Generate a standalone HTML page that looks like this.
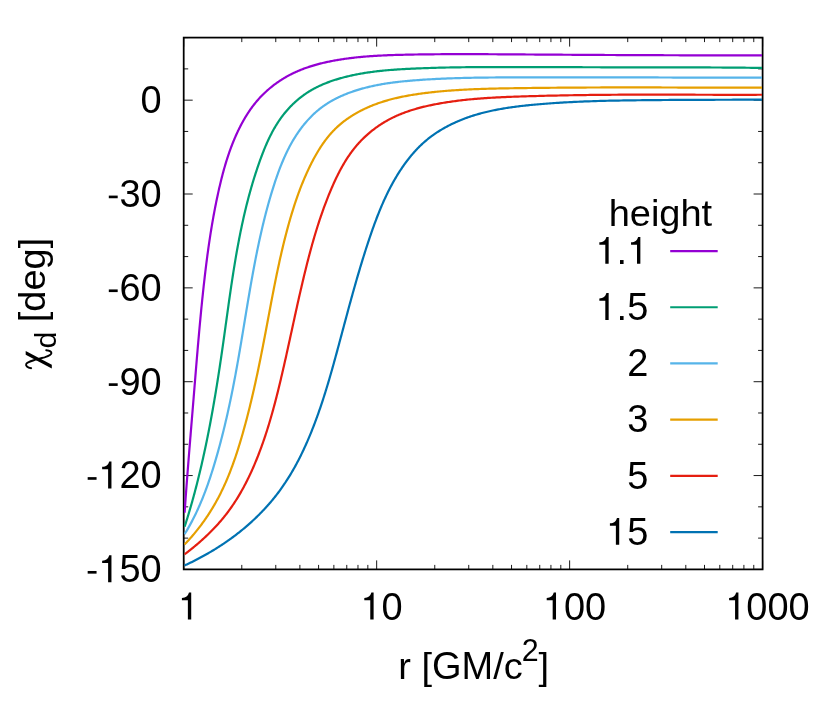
<!DOCTYPE html>
<html><head><meta charset="utf-8"><title>plot</title>
<style>html,body{margin:0;padding:0;background:#fff}svg{display:block;will-change:transform}text{font-family:"Liberation Sans",sans-serif;fill:#000}</style></head>
<body>
<svg width="830" height="727" viewBox="0 0 830 727">
<rect x="0" y="0" width="830" height="727" fill="#fff"/>
<path d="M183.70,569.40 h9.00 M762.60,569.40 h-9.00 M183.70,538.12 h4.50 M762.60,538.12 h-4.50 M183.70,506.84 h4.50 M762.60,506.84 h-4.50 M183.70,475.55 h9.00 M762.60,475.55 h-9.00 M183.70,444.27 h4.50 M762.60,444.27 h-4.50 M183.70,412.99 h4.50 M762.60,412.99 h-4.50 M183.70,381.71 h9.00 M762.60,381.71 h-9.00 M183.70,350.42 h4.50 M762.60,350.42 h-4.50 M183.70,319.14 h4.50 M762.60,319.14 h-4.50 M183.70,287.86 h9.00 M762.60,287.86 h-9.00 M183.70,256.58 h4.50 M762.60,256.58 h-4.50 M183.70,225.29 h4.50 M762.60,225.29 h-4.50 M183.70,194.01 h9.00 M762.60,194.01 h-9.00 M183.70,162.73 h4.50 M762.60,162.73 h-4.50 M183.70,131.45 h4.50 M762.60,131.45 h-4.50 M183.70,100.16 h9.00 M762.60,100.16 h-9.00 M183.70,68.88 h4.50 M762.60,68.88 h-4.50 M183.70,37.60 h4.50 M762.60,37.60 h-4.50 M183.70,569.40 v-9.00 M183.70,37.60 v9.00 M241.79,569.40 v-4.50 M241.79,37.60 v4.50 M275.77,569.40 v-4.50 M275.77,37.60 v4.50 M299.88,569.40 v-4.50 M299.88,37.60 v4.50 M318.58,569.40 v-4.50 M318.58,37.60 v4.50 M333.86,569.40 v-4.50 M333.86,37.60 v4.50 M346.78,569.40 v-4.50 M346.78,37.60 v4.50 M357.97,569.40 v-4.50 M357.97,37.60 v4.50 M367.84,569.40 v-4.50 M367.84,37.60 v4.50 M376.67,569.40 v-9.00 M376.67,37.60 v9.00 M434.76,569.40 v-4.50 M434.76,37.60 v4.50 M468.74,569.40 v-4.50 M468.74,37.60 v4.50 M492.84,569.40 v-4.50 M492.84,37.60 v4.50 M511.54,569.40 v-4.50 M511.54,37.60 v4.50 M526.82,569.40 v-4.50 M526.82,37.60 v4.50 M539.74,569.40 v-4.50 M539.74,37.60 v4.50 M550.93,569.40 v-4.50 M550.93,37.60 v4.50 M560.80,569.40 v-4.50 M560.80,37.60 v4.50 M569.63,569.40 v-9.00 M569.63,37.60 v9.00 M627.72,569.40 v-4.50 M627.72,37.60 v4.50 M661.70,569.40 v-4.50 M661.70,37.60 v4.50 M685.81,569.40 v-4.50 M685.81,37.60 v4.50 M704.51,569.40 v-4.50 M704.51,37.60 v4.50 M719.79,569.40 v-4.50 M719.79,37.60 v4.50 M732.71,569.40 v-4.50 M732.71,37.60 v4.50 M743.90,569.40 v-4.50 M743.90,37.60 v4.50 M753.77,569.40 v-4.50 M753.77,37.60 v4.50 M762.60,569.40 v-9.00 M762.60,37.60 v9.00" stroke="#000" stroke-width="0.9" fill="none"/>
<rect x="183.70" y="37.60" width="578.90" height="531.80" fill="none" stroke="#000" stroke-width="1.75"/>
<defs><clipPath id="pc"><rect x="184" y="37.60" width="578" height="531.80"/></clipPath></defs>
<g fill="none" stroke-width="2.2" stroke-linejoin="round" stroke-linecap="butt" clip-path="url(#pc)">
<path d="M184.60,512.70 L184.74,510.68 L184.88,508.67 L185.02,506.65 L185.17,504.63 L185.31,502.60 L185.46,500.57 L185.60,498.54 L185.75,496.51 L185.90,494.47 L186.05,492.43 L186.20,490.38 L186.36,488.33 L186.51,486.27 L186.67,484.21 L186.82,482.15 L186.98,480.08 L187.14,478.01 L187.30,475.93 L187.46,473.85 L187.62,471.76 L187.79,469.67 L187.95,467.58 L188.12,465.48 L188.28,463.37 L188.45,461.26 L188.62,459.15 L188.79,457.03 L188.96,454.91 L189.13,452.78 L189.30,450.65 L189.47,448.51 L189.65,446.37 L189.82,444.22 L190.00,442.07 L190.17,439.91 L190.35,437.75 L190.53,435.58 L190.70,433.41 L190.88,431.23 L191.06,429.06 L191.24,426.88 L191.42,424.70 L191.60,422.51 L191.78,420.33 L191.96,418.15 L192.14,415.96 L192.32,413.78 L192.50,411.60 L192.68,409.43 L192.86,407.25 L193.03,405.08 L193.21,402.92 L193.39,400.75 L193.57,398.60 L193.74,396.44 L193.92,394.30 L194.09,392.15 L194.27,390.02 L194.44,387.88 L194.61,385.76 L194.79,383.63 L194.96,381.51 L195.13,379.40 L195.30,377.29 L195.48,375.18 L195.65,373.08 L195.82,370.99 L195.99,368.90 L196.16,366.81 L196.34,364.73 L196.51,362.65 L196.68,360.58 L196.85,358.51 L197.03,356.45 L197.20,354.39 L197.38,352.33 L197.55,350.28 L197.72,348.24 L197.90,346.19 L198.08,344.16 L198.25,342.12 L198.43,340.10 L198.61,338.07 L198.79,336.05 L198.97,334.03 L199.15,332.02 L199.33,330.02 L199.51,328.01 L199.69,326.01 L199.88,324.02 L200.06,322.03 L200.25,320.04 L200.43,318.06 L200.62,316.08 L200.81,314.11 L201.00,312.14 L201.19,310.17 L201.39,308.21 L201.58,306.25 L201.78,304.30 L201.97,302.35 L202.17,300.41 L202.37,298.47 L202.57,296.53 L202.78,294.60 L202.98,292.67 L203.19,290.74 L203.39,288.82 L203.60,286.90 L203.81,284.99 L204.02,283.08 L204.24,281.17 L204.45,279.27 L204.67,277.37 L204.89,275.48 L205.11,273.59 L205.34,271.70 L205.56,269.82 L205.79,267.94 L206.02,266.07 L206.26,264.21 L206.49,262.35 L206.73,260.49 L206.97,258.65 L207.21,256.81 L207.45,254.97 L207.70,253.15 L207.95,251.33 L208.20,249.52 L208.45,247.72 L208.71,245.93 L208.96,244.15 L209.22,242.38 L209.48,240.61 L209.75,238.86 L210.01,237.11 L210.28,235.38 L210.55,233.66 L210.82,231.94 L211.10,230.24 L211.37,228.54 L211.65,226.86 L211.93,225.18 L212.21,223.52 L212.50,221.86 L212.79,220.21 L213.08,218.57 L213.37,216.93 L213.66,215.31 L213.96,213.69 L214.26,212.09 L214.56,210.49 L214.87,208.89 L215.17,207.31 L215.48,205.73 L215.80,204.16 L216.11,202.60 L216.43,201.05 L216.75,199.50 L217.07,197.96 L217.40,196.43 L217.72,194.90 L218.06,193.38 L218.39,191.87 L218.72,190.36 L219.06,188.86 L219.41,187.36 L219.75,185.88 L220.10,184.40 L220.45,182.92 L220.81,181.45 L221.17,180.00 L221.53,178.55 L221.90,177.11 L222.26,175.69 L222.63,174.28 L223.00,172.89 L223.38,171.51 L223.75,170.16 L224.12,168.82 L224.50,167.50 L224.88,166.20 L225.25,164.92 L225.63,163.66 L226.00,162.42 L226.38,161.20 L226.75,160.01 L227.13,158.83 L227.50,157.67 L227.87,156.54 L228.24,155.42 L228.61,154.33 L228.98,153.26 L229.34,152.20 L229.71,151.16 L230.07,150.15 L230.44,149.15 L230.80,148.17 L231.15,147.21 L231.51,146.26 L231.87,145.33 L232.22,144.42 L232.57,143.52 L232.93,142.64 L233.28,141.77 L233.62,140.92 L233.97,140.07 L234.32,139.24 L234.67,138.43 L235.01,137.62 L235.35,136.83 L235.70,136.05 L236.04,135.27 L236.38,134.51 L236.72,133.76 L237.06,133.02 L237.41,132.29 L237.74,131.56 L238.08,130.85 L238.42,130.14 L238.76,129.44 L239.10,128.75 L239.44,128.07 L239.78,127.39 L240.12,126.72 L240.46,126.05 L240.81,125.39 L241.15,124.74 L241.49,124.09 L241.84,123.45 L242.18,122.81 L242.53,122.17 L242.88,121.55 L243.22,120.92 L243.58,120.30 L243.93,119.69 L244.28,119.07 L244.64,118.47 L244.99,117.86 L245.35,117.26 L245.71,116.67 L246.07,116.07 L246.44,115.48 L246.81,114.90 L247.17,114.31 L247.55,113.73 L247.92,113.15 L248.30,112.58 L248.67,112.01 L249.06,111.44 L249.44,110.87 L249.83,110.30 L250.22,109.74 L250.61,109.18 L251.01,108.62 L251.40,108.07 L251.81,107.51 L252.21,106.96 L252.62,106.41 L253.03,105.87 L253.45,105.32 L253.87,104.78 L254.30,104.23 L254.73,103.69 L255.16,103.15 L255.59,102.62 L256.04,102.08 L256.48,101.55 L256.93,101.01 L257.39,100.48 L257.85,99.95 L258.32,99.42 L258.79,98.89 L259.26,98.37 L259.74,97.84 L260.23,97.32 L260.72,96.80 L261.22,96.28 L261.72,95.76 L262.23,95.24 L262.74,94.73 L263.26,94.22 L263.78,93.71 L264.30,93.20 L264.84,92.69 L265.37,92.19 L265.91,91.69 L266.46,91.19 L267.01,90.69 L267.57,90.20 L268.13,89.71 L268.70,89.22 L269.27,88.73 L269.84,88.24 L270.42,87.76 L271.01,87.28 L271.60,86.81 L272.19,86.34 L272.79,85.87 L273.40,85.40 L274.00,84.94 L274.62,84.48 L275.23,84.02 L275.85,83.57 L276.48,83.12 L277.11,82.67 L277.74,82.23 L278.38,81.79 L279.02,81.35 L279.67,80.92 L280.32,80.49 L280.97,80.06 L281.63,79.64 L282.30,79.22 L282.96,78.81 L283.63,78.40 L284.31,77.99 L284.99,77.59 L285.67,77.19 L286.36,76.80 L287.05,76.41 L287.75,76.02 L288.45,75.64 L289.15,75.26 L289.86,74.89 L290.57,74.52 L291.29,74.16 L292.01,73.80 L292.73,73.44 L293.46,73.09 L294.19,72.74 L294.92,72.40 L295.66,72.06 L296.41,71.72 L297.16,71.39 L297.91,71.06 L298.67,70.74 L299.43,70.42 L300.19,70.11 L300.96,69.80 L301.74,69.49 L302.52,69.19 L303.30,68.89 L304.09,68.59 L304.88,68.30 L305.68,68.01 L306.48,67.73 L307.29,67.45 L308.10,67.17 L308.92,66.90 L309.74,66.63 L310.57,66.36 L311.40,66.10 L312.24,65.84 L313.09,65.59 L313.94,65.33 L314.79,65.09 L315.65,64.84 L316.52,64.60 L317.39,64.36 L318.27,64.13 L319.15,63.89 L320.04,63.66 L320.93,63.44 L321.83,63.22 L322.74,63.00 L323.65,62.78 L324.57,62.57 L325.50,62.36 L326.43,62.15 L327.37,61.95 L328.31,61.75 L329.26,61.55 L330.22,61.36 L331.19,61.17 L332.16,60.98 L333.13,60.79 L334.12,60.61 L335.11,60.43 L336.11,60.26 L337.11,60.08 L338.12,59.91 L339.14,59.74 L340.17,59.57 L341.20,59.41 L342.25,59.25 L343.30,59.09 L344.35,58.94 L345.42,58.78 L346.49,58.63 L347.58,58.49 L348.67,58.34 L349.77,58.20 L350.87,58.06 L351.99,57.92 L353.12,57.79 L354.26,57.66 L355.40,57.53 L356.56,57.41 L357.73,57.28 L358.91,57.16 L360.09,57.05 L361.29,56.93 L362.50,56.82 L363.72,56.71 L364.96,56.61 L366.20,56.50 L367.46,56.40 L368.73,56.31 L370.01,56.21 L371.31,56.12 L372.62,56.03 L373.95,55.94 L375.28,55.86 L376.64,55.78 L378.00,55.70 L379.39,55.62 L380.79,55.55 L382.20,55.48 L383.64,55.41 L385.09,55.35 L386.56,55.28 L388.04,55.22 L389.55,55.17 L391.08,55.11 L392.62,55.06 L394.19,55.01 L395.78,54.96 L397.40,54.91 L399.04,54.86 L400.70,54.82 L402.39,54.78 L404.10,54.74 L405.85,54.70 L407.62,54.66 L409.43,54.63 L411.26,54.59 L413.13,54.56 L415.02,54.52 L416.95,54.49 L418.90,54.46 L420.88,54.43 L422.88,54.40 L424.91,54.38 L426.97,54.35 L429.04,54.33 L431.14,54.31 L433.25,54.29 L435.37,54.27 L437.51,54.25 L439.66,54.23 L441.82,54.22 L443.97,54.21 L446.13,54.20 L448.29,54.19 L450.45,54.18 L452.61,54.17 L454.77,54.16 L456.93,54.16 L459.09,54.16 L461.25,54.16 L463.41,54.16 L465.58,54.16 L467.74,54.16 L469.91,54.16 L472.07,54.17 L474.24,54.17 L476.41,54.18 L478.58,54.18 L480.75,54.19 L482.92,54.20 L485.09,54.21 L487.26,54.22 L489.44,54.23 L491.61,54.24 L493.79,54.25 L495.96,54.27 L498.14,54.28 L500.32,54.29 L502.50,54.31 L504.68,54.32 L506.86,54.34 L509.04,54.35 L511.22,54.37 L513.41,54.38 L515.59,54.40 L517.78,54.41 L519.96,54.43 L522.15,54.44 L524.34,54.46 L526.53,54.48 L528.72,54.49 L530.91,54.51 L533.10,54.52 L535.29,54.54 L537.49,54.55 L539.68,54.57 L541.88,54.58 L544.08,54.60 L546.27,54.61 L548.47,54.63 L550.67,54.64 L552.87,54.66 L555.07,54.67 L557.28,54.69 L559.48,54.70 L561.68,54.72 L563.89,54.73 L566.10,54.74 L568.30,54.76 L570.51,54.77 L572.72,54.79 L574.93,54.80 L577.14,54.81 L579.35,54.83 L581.55,54.84 L583.76,54.85 L585.97,54.87 L588.18,54.88 L590.39,54.89 L592.60,54.90 L594.80,54.92 L597.01,54.93 L599.22,54.94 L601.42,54.95 L603.62,54.97 L605.83,54.98 L608.03,54.99 L610.23,55.00 L612.43,55.01 L614.63,55.02 L616.83,55.03 L619.02,55.04 L621.22,55.05 L623.41,55.07 L625.61,55.08 L627.80,55.09 L629.99,55.10 L632.18,55.11 L634.37,55.12 L636.56,55.12 L638.75,55.13 L640.94,55.14 L643.12,55.15 L645.31,55.16 L647.49,55.17 L649.68,55.18 L651.86,55.19 L654.04,55.19 L656.22,55.20 L658.40,55.21 L660.58,55.22 L662.76,55.22 L664.94,55.23 L667.11,55.24 L669.29,55.24 L671.46,55.25 L673.63,55.26 L675.81,55.26 L677.98,55.27 L680.15,55.28 L682.32,55.28 L684.49,55.29 L686.66,55.29 L688.82,55.30 L690.99,55.30 L693.16,55.31 L695.32,55.31 L697.48,55.32 L699.65,55.32 L701.81,55.33 L703.97,55.33 L706.13,55.34 L708.29,55.34 L710.45,55.34 L712.60,55.35 L714.76,55.35 L716.92,55.36 L719.07,55.36 L721.23,55.36 L723.38,55.37 L725.53,55.37 L727.68,55.37 L729.83,55.37 L731.98,55.38 L734.13,55.38 L736.28,55.38 L738.43,55.38 L740.57,55.39 L742.72,55.39 L744.86,55.39 L747.01,55.39 L749.15,55.39 L751.30,55.39 L753.44,55.40 L755.58,55.40 L757.72,55.40 L759.86,55.40 L762.00,55.40 L763.00,55.40" stroke="#9400D3"/>
<path d="M184.60,526.76 L185.00,525.50 L185.43,524.17 L185.85,522.83 L186.27,521.49 L186.69,520.15 L187.11,518.81 L187.52,517.46 L187.94,516.10 L188.35,514.75 L188.76,513.39 L189.17,512.02 L189.57,510.65 L189.97,509.28 L190.38,507.90 L190.78,506.52 L191.18,505.13 L191.57,503.74 L191.97,502.34 L192.36,500.94 L192.75,499.54 L193.14,498.12 L193.53,496.71 L193.92,495.28 L194.31,493.86 L194.69,492.42 L195.07,490.99 L195.45,489.54 L195.83,488.10 L196.21,486.64 L196.59,485.18 L196.96,483.72 L197.33,482.25 L197.71,480.77 L198.08,479.29 L198.44,477.80 L198.81,476.31 L199.18,474.81 L199.54,473.31 L199.90,471.80 L200.27,470.28 L200.63,468.76 L200.98,467.23 L201.34,465.70 L201.70,464.16 L202.05,462.61 L202.41,461.06 L202.76,459.50 L203.11,457.93 L203.46,456.36 L203.80,454.78 L204.15,453.20 L204.50,451.61 L204.84,450.01 L205.18,448.40 L205.53,446.79 L205.87,445.17 L206.20,443.55 L206.54,441.92 L206.88,440.28 L207.21,438.63 L207.55,436.98 L207.88,435.32 L208.21,433.65 L208.55,431.97 L208.88,430.29 L209.20,428.60 L209.53,426.90 L209.86,425.19 L210.19,423.48 L210.51,421.75 L210.83,420.02 L211.16,418.28 L211.48,416.53 L211.80,414.78 L212.12,413.01 L212.44,411.23 L212.76,409.45 L213.08,407.66 L213.39,405.85 L213.71,404.04 L214.02,402.22 L214.34,400.39 L214.65,398.54 L214.97,396.69 L215.28,394.83 L215.59,392.96 L215.90,391.07 L216.22,389.18 L216.53,387.27 L216.84,385.35 L217.15,383.43 L217.46,381.49 L217.77,379.53 L218.07,377.57 L218.38,375.59 L218.69,373.61 L219.00,371.60 L219.31,369.59 L219.62,367.56 L219.93,365.52 L220.23,363.47 L220.54,361.40 L220.85,359.32 L221.16,357.22 L221.47,355.11 L221.78,352.99 L222.09,350.87 L222.39,348.73 L222.70,346.59 L223.01,344.44 L223.31,342.29 L223.61,340.14 L223.92,337.99 L224.22,335.85 L224.52,333.71 L224.81,331.57 L225.11,329.44 L225.40,327.32 L225.69,325.22 L225.98,323.12 L226.27,321.04 L226.56,318.98 L226.84,316.92 L227.13,314.88 L227.41,312.85 L227.69,310.84 L227.97,308.83 L228.25,306.84 L228.53,304.86 L228.80,302.90 L229.08,300.94 L229.36,299.00 L229.63,297.06 L229.91,295.14 L230.19,293.23 L230.46,291.33 L230.74,289.44 L231.02,287.57 L231.29,285.70 L231.57,283.84 L231.85,281.99 L232.13,280.16 L232.41,278.33 L232.69,276.51 L232.97,274.71 L233.25,272.91 L233.53,271.12 L233.82,269.34 L234.10,267.57 L234.39,265.81 L234.67,264.06 L234.96,262.32 L235.25,260.59 L235.54,258.86 L235.84,257.15 L236.13,255.44 L236.43,253.74 L236.72,252.05 L237.02,250.37 L237.32,248.70 L237.63,247.03 L237.93,245.37 L238.24,243.73 L238.55,242.08 L238.86,240.45 L239.17,238.83 L239.48,237.21 L239.80,235.60 L240.12,233.99 L240.44,232.40 L240.76,230.81 L241.09,229.23 L241.42,227.66 L241.75,226.09 L242.08,224.53 L242.41,222.98 L242.75,221.43 L243.09,219.89 L243.44,218.36 L243.78,216.83 L244.13,215.31 L244.48,213.79 L244.83,212.28 L245.19,210.78 L245.55,209.29 L245.91,207.80 L246.27,206.31 L246.64,204.83 L247.01,203.36 L247.39,201.89 L247.76,200.43 L248.14,198.98 L248.52,197.53 L248.91,196.08 L249.30,194.64 L249.69,193.21 L250.09,191.78 L250.48,190.36 L250.88,188.94 L251.29,187.52 L251.70,186.11 L252.11,184.71 L252.52,183.31 L252.94,181.92 L253.36,180.53 L253.78,179.14 L254.21,177.77 L254.64,176.40 L255.07,175.05 L255.50,173.70 L255.93,172.36 L256.37,171.04 L256.80,169.73 L257.24,168.43 L257.67,167.14 L258.11,165.87 L258.54,164.61 L258.98,163.37 L259.41,162.14 L259.84,160.93 L260.27,159.73 L260.70,158.55 L261.13,157.39 L261.56,156.24 L261.98,155.11 L262.41,153.99 L262.83,152.89 L263.26,151.81 L263.68,150.75 L264.10,149.70 L264.52,148.67 L264.94,147.65 L265.35,146.66 L265.77,145.67 L266.19,144.71 L266.60,143.76 L267.02,142.82 L267.43,141.90 L267.84,140.99 L268.26,140.09 L268.67,139.21 L269.08,138.34 L269.49,137.49 L269.90,136.64 L270.32,135.81 L270.73,134.99 L271.14,134.18 L271.55,133.39 L271.96,132.60 L272.38,131.83 L272.79,131.06 L273.20,130.31 L273.62,129.57 L274.03,128.83 L274.44,128.11 L274.86,127.40 L275.27,126.69 L275.69,126.00 L276.10,125.31 L276.52,124.64 L276.94,123.97 L277.35,123.31 L277.77,122.66 L278.19,122.01 L278.61,121.38 L279.03,120.75 L279.45,120.13 L279.87,119.52 L280.29,118.92 L280.72,118.32 L281.14,117.73 L281.56,117.15 L281.99,116.58 L282.42,116.01 L282.84,115.45 L283.27,114.89 L283.70,114.34 L284.13,113.80 L284.56,113.27 L284.99,112.74 L285.42,112.22 L285.85,111.70 L286.29,111.19 L286.72,110.68 L287.16,110.18 L287.60,109.68 L288.04,109.19 L288.48,108.70 L288.92,108.22 L289.36,107.74 L289.81,107.27 L290.26,106.80 L290.70,106.33 L291.15,105.87 L291.60,105.42 L292.06,104.96 L292.51,104.52 L292.97,104.07 L293.43,103.63 L293.89,103.19 L294.35,102.76 L294.82,102.33 L295.29,101.90 L295.76,101.48 L296.23,101.06 L296.70,100.64 L297.18,100.23 L297.66,99.82 L298.14,99.41 L298.63,99.01 L299.12,98.61 L299.61,98.21 L300.10,97.81 L300.59,97.42 L301.09,97.03 L301.59,96.65 L302.10,96.27 L302.61,95.89 L303.12,95.51 L303.63,95.14 L304.15,94.76 L304.67,94.40 L305.20,94.03 L305.73,93.67 L306.26,93.31 L306.80,92.95 L307.34,92.60 L307.89,92.25 L308.43,91.90 L308.99,91.55 L309.55,91.21 L310.11,90.87 L310.68,90.53 L311.25,90.20 L311.82,89.87 L312.40,89.54 L312.99,89.21 L313.58,88.88 L314.18,88.56 L314.78,88.24 L315.38,87.93 L315.99,87.61 L316.61,87.30 L317.23,86.99 L317.86,86.68 L318.49,86.38 L319.12,86.08 L319.76,85.78 L320.41,85.48 L321.06,85.19 L321.72,84.89 L322.38,84.60 L323.04,84.32 L323.72,84.03 L324.39,83.75 L325.08,83.47 L325.76,83.20 L326.46,82.92 L327.16,82.65 L327.86,82.38 L328.57,82.11 L329.29,81.85 L330.01,81.59 L330.74,81.33 L331.47,81.07 L332.21,80.82 L332.96,80.56 L333.71,80.31 L334.47,80.07 L335.23,79.82 L336.00,79.58 L336.78,79.34 L337.56,79.10 L338.35,78.86 L339.15,78.63 L339.95,78.40 L340.76,78.17 L341.58,77.94 L342.40,77.72 L343.23,77.49 L344.07,77.27 L344.92,77.05 L345.78,76.84 L346.64,76.62 L347.51,76.41 L348.39,76.20 L349.28,75.99 L350.18,75.79 L351.08,75.58 L352.00,75.38 L352.93,75.18 L353.86,74.98 L354.81,74.79 L355.76,74.59 L356.73,74.40 L357.71,74.21 L358.70,74.03 L359.70,73.84 L360.72,73.66 L361.74,73.48 L362.78,73.30 L363.83,73.13 L364.90,72.95 L365.98,72.78 L367.08,72.61 L368.19,72.45 L369.31,72.29 L370.45,72.12 L371.61,71.97 L372.79,71.81 L373.98,71.66 L375.20,71.51 L376.43,71.36 L377.68,71.21 L378.96,71.07 L380.25,70.93 L381.57,70.79 L382.92,70.65 L384.29,70.52 L385.68,70.39 L387.10,70.26 L388.55,70.14 L390.02,70.02 L391.52,69.90 L393.04,69.78 L394.59,69.67 L396.17,69.56 L397.77,69.45 L399.39,69.35 L401.04,69.25 L402.72,69.15 L404.42,69.05 L406.13,68.96 L407.87,68.87 L409.63,68.78 L411.40,68.70 L413.19,68.62 L414.99,68.54 L416.80,68.46 L418.62,68.38 L420.45,68.31 L422.28,68.24 L424.12,68.17 L425.96,68.10 L427.81,68.04 L429.67,67.98 L431.53,67.92 L433.40,67.86 L435.28,67.81 L437.16,67.75 L439.05,67.70 L440.95,67.66 L442.86,67.61 L444.77,67.57 L446.69,67.52 L448.61,67.48 L450.55,67.45 L452.49,67.41 L454.44,67.38 L456.40,67.34 L458.36,67.31 L460.34,67.29 L462.32,67.26 L464.31,67.23 L466.31,67.21 L468.31,67.19 L470.33,67.17 L472.35,67.15 L474.39,67.13 L476.43,67.12 L478.48,67.11 L480.55,67.09 L482.62,67.08 L484.70,67.07 L486.79,67.06 L488.89,67.06 L491.00,67.05 L493.12,67.05 L495.25,67.04 L497.39,67.04 L499.55,67.04 L501.71,67.04 L503.87,67.04 L506.05,67.04 L508.23,67.04 L510.42,67.04 L512.61,67.05 L514.81,67.05 L517.02,67.05 L519.22,67.06 L521.43,67.06 L523.64,67.07 L525.86,67.07 L528.07,67.08 L530.29,67.08 L532.50,67.09 L534.71,67.09 L536.93,67.10 L539.14,67.10 L541.36,67.11 L543.57,67.12 L545.79,67.12 L548.00,67.13 L550.22,67.13 L552.44,67.14 L554.66,67.15 L556.87,67.15 L559.09,67.16 L561.32,67.16 L563.54,67.17 L565.76,67.18 L567.98,67.18 L570.21,67.19 L572.43,67.20 L574.66,67.20 L576.88,67.21 L579.11,67.22 L581.34,67.22 L583.57,67.23 L585.80,67.23 L588.02,67.24 L590.25,67.25 L592.48,67.25 L594.71,67.26 L596.94,67.26 L599.17,67.27 L601.40,67.28 L603.63,67.28 L605.86,67.29 L608.08,67.29 L610.31,67.30 L612.54,67.30 L614.76,67.31 L616.98,67.31 L619.21,67.32 L621.43,67.32 L623.65,67.33 L625.87,67.33 L628.09,67.34 L630.31,67.34 L632.53,67.34 L634.75,67.35 L636.97,67.35 L639.19,67.35 L641.40,67.35 L643.62,67.36 L645.83,67.36 L648.05,67.36 L650.26,67.36 L652.47,67.37 L654.68,67.37 L656.89,67.37 L659.10,67.37 L661.31,67.37 L663.52,67.37 L665.73,67.38 L667.94,67.38 L670.14,67.38 L672.35,67.38 L674.55,67.38 L676.76,67.39 L678.96,67.39 L681.16,67.39 L683.37,67.39 L685.57,67.40 L687.77,67.40 L689.96,67.41 L692.16,67.41 L694.36,67.42 L696.56,67.42 L698.75,67.43 L700.95,67.43 L703.14,67.44 L705.33,67.45 L707.52,67.46 L709.72,67.47 L711.90,67.48 L714.09,67.49 L716.28,67.50 L718.47,67.51 L720.66,67.52 L722.84,67.54 L725.02,67.55 L727.21,67.57 L729.39,67.58 L731.57,67.60 L733.75,67.62 L735.93,67.64 L738.11,67.66 L740.28,67.68 L742.46,67.70 L744.64,67.72 L746.81,67.75 L748.98,67.77 L751.15,67.80 L753.32,67.83 L755.49,67.85 L757.66,67.89 L759.83,67.92 L762.00,67.95 L763.00,67.97" stroke="#009E73"/>
<path d="M184.60,534.17 L185.00,533.50 L185.74,532.29 L186.47,531.07 L187.19,529.85 L187.91,528.62 L188.62,527.39 L189.32,526.15 L190.01,524.90 L190.69,523.65 L191.37,522.39 L192.04,521.13 L192.70,519.86 L193.35,518.58 L194.00,517.30 L194.64,516.01 L195.27,514.71 L195.90,513.41 L196.52,512.11 L197.13,510.79 L197.74,509.47 L198.34,508.15 L198.94,506.82 L199.52,505.48 L200.11,504.14 L200.68,502.79 L201.25,501.44 L201.82,500.08 L202.38,498.71 L202.93,497.34 L203.48,495.96 L204.02,494.58 L204.55,493.19 L205.09,491.80 L205.61,490.40 L206.13,489.00 L206.65,487.59 L207.16,486.18 L207.67,484.76 L208.17,483.33 L208.66,481.90 L209.16,480.47 L209.64,479.03 L210.13,477.59 L210.61,476.14 L211.08,474.69 L211.55,473.23 L212.02,471.76 L212.48,470.30 L212.94,468.83 L213.40,467.35 L213.85,465.87 L214.30,464.38 L214.75,462.90 L215.19,461.40 L215.64,459.91 L216.07,458.40 L216.51,456.90 L216.94,455.39 L217.37,453.88 L217.80,452.36 L218.22,450.84 L218.64,449.31 L219.06,447.78 L219.48,446.25 L219.89,444.71 L220.30,443.17 L220.71,441.62 L221.12,440.07 L221.52,438.52 L221.92,436.96 L222.32,435.39 L222.72,433.82 L223.11,432.25 L223.50,430.67 L223.89,429.09 L224.28,427.51 L224.66,425.91 L225.05,424.32 L225.42,422.72 L225.80,421.11 L226.18,419.50 L226.55,417.89 L226.92,416.27 L227.29,414.64 L227.66,413.01 L228.02,411.38 L228.38,409.74 L228.74,408.09 L229.10,406.44 L229.46,404.79 L229.81,403.13 L230.17,401.46 L230.52,399.79 L230.87,398.12 L231.21,396.44 L231.56,394.75 L231.90,393.06 L232.24,391.36 L232.58,389.66 L232.92,387.95 L233.26,386.24 L233.59,384.52 L233.93,382.79 L234.26,381.06 L234.59,379.33 L234.92,377.58 L235.25,375.84 L235.58,374.08 L235.90,372.32 L236.22,370.56 L236.55,368.79 L236.87,367.01 L237.19,365.22 L237.51,363.43 L237.83,361.64 L238.15,359.84 L238.46,358.03 L238.78,356.21 L239.10,354.39 L239.41,352.55 L239.73,350.71 L240.04,348.86 L240.36,346.99 L240.68,345.12 L241.00,343.23 L241.32,341.33 L241.64,339.42 L241.96,337.49 L242.28,335.55 L242.61,333.59 L242.94,331.62 L243.27,329.62 L243.60,327.61 L243.93,325.58 L244.27,323.53 L244.61,321.46 L244.96,319.39 L245.30,317.30 L245.65,315.21 L245.99,313.11 L246.34,311.01 L246.69,308.91 L247.04,306.81 L247.39,304.72 L247.74,302.65 L248.08,300.58 L248.43,298.52 L248.78,296.49 L249.12,294.47 L249.46,292.47 L249.80,290.49 L250.14,288.54 L250.48,286.60 L250.81,284.68 L251.15,282.78 L251.48,280.90 L251.81,279.04 L252.15,277.19 L252.48,275.36 L252.81,273.55 L253.14,271.75 L253.47,269.97 L253.79,268.20 L254.12,266.45 L254.45,264.72 L254.78,263.00 L255.11,261.29 L255.44,259.59 L255.76,257.91 L256.09,256.25 L256.42,254.59 L256.75,252.95 L257.08,251.32 L257.41,249.71 L257.74,248.10 L258.08,246.51 L258.41,244.93 L258.74,243.36 L259.07,241.80 L259.41,240.25 L259.74,238.71 L260.08,237.19 L260.42,235.67 L260.76,234.16 L261.10,232.66 L261.44,231.18 L261.78,229.70 L262.12,228.23 L262.47,226.77 L262.81,225.32 L263.16,223.88 L263.51,222.45 L263.86,221.02 L264.21,219.61 L264.56,218.20 L264.91,216.80 L265.27,215.41 L265.62,214.02 L265.98,212.65 L266.34,211.28 L266.70,209.92 L267.07,208.57 L267.43,207.22 L267.80,205.88 L268.16,204.55 L268.53,203.23 L268.90,201.91 L269.28,200.60 L269.65,199.29 L270.03,198.00 L270.41,196.70 L270.79,195.42 L271.17,194.14 L271.55,192.87 L271.94,191.60 L272.33,190.34 L272.72,189.08 L273.11,187.83 L273.50,186.59 L273.90,185.35 L274.30,184.12 L274.70,182.89 L275.10,181.67 L275.50,180.46 L275.91,179.25 L276.32,178.06 L276.73,176.87 L277.14,175.69 L277.55,174.52 L277.97,173.37 L278.38,172.22 L278.80,171.09 L279.22,169.97 L279.63,168.86 L280.05,167.77 L280.48,166.68 L280.90,165.61 L281.32,164.56 L281.74,163.52 L282.16,162.49 L282.59,161.47 L283.01,160.47 L283.43,159.49 L283.85,158.51 L284.28,157.56 L284.70,156.61 L285.12,155.68 L285.54,154.76 L285.96,153.86 L286.39,152.97 L286.81,152.09 L287.23,151.23 L287.64,150.38 L288.06,149.54 L288.48,148.71 L288.90,147.90 L289.32,147.10 L289.73,146.31 L290.15,145.53 L290.57,144.76 L290.98,144.01 L291.40,143.26 L291.81,142.52 L292.23,141.80 L292.64,141.08 L293.06,140.37 L293.47,139.67 L293.89,138.99 L294.30,138.31 L294.72,137.63 L295.13,136.97 L295.54,136.31 L295.96,135.67 L296.37,135.03 L296.79,134.40 L297.21,133.77 L297.62,133.15 L298.04,132.54 L298.46,131.93 L298.88,131.33 L299.30,130.74 L299.72,130.15 L300.14,129.57 L300.56,128.99 L300.99,128.42 L301.41,127.85 L301.84,127.29 L302.27,126.73 L302.70,126.18 L303.13,125.63 L303.57,125.09 L304.00,124.55 L304.44,124.01 L304.88,123.48 L305.32,122.95 L305.77,122.43 L306.21,121.91 L306.66,121.40 L307.11,120.89 L307.56,120.38 L308.02,119.87 L308.48,119.37 L308.94,118.88 L309.40,118.38 L309.87,117.89 L310.34,117.40 L310.81,116.92 L311.28,116.44 L311.76,115.96 L312.24,115.49 L312.73,115.02 L313.22,114.55 L313.71,114.08 L314.20,113.62 L314.70,113.16 L315.20,112.71 L315.71,112.25 L316.22,111.80 L316.74,111.36 L317.26,110.91 L317.78,110.47 L318.31,110.03 L318.84,109.60 L319.38,109.16 L319.92,108.73 L320.47,108.31 L321.03,107.88 L321.58,107.46 L322.15,107.04 L322.71,106.63 L323.29,106.22 L323.87,105.81 L324.45,105.40 L325.04,105.00 L325.63,104.60 L326.23,104.21 L326.83,103.82 L327.44,103.43 L328.05,103.04 L328.66,102.66 L329.29,102.28 L329.91,101.91 L330.54,101.54 L331.18,101.17 L331.82,100.81 L332.46,100.44 L333.11,100.09 L333.76,99.73 L334.42,99.38 L335.08,99.03 L335.75,98.69 L336.42,98.35 L337.10,98.01 L337.78,97.68 L338.46,97.34 L339.15,97.02 L339.85,96.69 L340.55,96.37 L341.25,96.05 L341.96,95.74 L342.67,95.43 L343.39,95.12 L344.11,94.81 L344.83,94.51 L345.56,94.21 L346.30,93.92 L347.04,93.62 L347.78,93.34 L348.53,93.05 L349.28,92.77 L350.04,92.49 L350.80,92.21 L351.57,91.94 L352.34,91.67 L353.12,91.40 L353.90,91.14 L354.69,90.87 L355.48,90.62 L356.28,90.36 L357.08,90.11 L357.89,89.86 L358.70,89.61 L359.52,89.37 L360.34,89.13 L361.17,88.89 L362.00,88.66 L362.84,88.42 L363.68,88.19 L364.54,87.97 L365.39,87.74 L366.26,87.52 L367.13,87.31 L368.01,87.09 L368.89,86.88 L369.78,86.67 L370.68,86.46 L371.58,86.26 L372.49,86.06 L373.41,85.86 L374.34,85.66 L375.27,85.47 L376.22,85.28 L377.17,85.09 L378.13,84.91 L379.09,84.73 L380.07,84.55 L381.05,84.37 L382.05,84.20 L383.05,84.03 L384.06,83.86 L385.09,83.69 L386.12,83.53 L387.16,83.37 L388.21,83.21 L389.28,83.06 L390.35,82.91 L391.43,82.76 L392.53,82.61 L393.64,82.46 L394.76,82.32 L395.89,82.18 L397.04,82.05 L398.19,81.91 L399.37,81.78 L400.55,81.65 L401.75,81.52 L402.96,81.40 L404.19,81.27 L405.44,81.15 L406.70,81.03 L407.97,80.91 L409.27,80.80 L410.58,80.68 L411.91,80.57 L413.25,80.46 L414.62,80.35 L416.01,80.24 L417.42,80.14 L418.85,80.03 L420.30,79.93 L421.77,79.82 L423.27,79.72 L424.80,79.62 L426.35,79.52 L427.94,79.42 L429.55,79.33 L431.19,79.23 L432.87,79.14 L434.58,79.04 L436.32,78.95 L438.10,78.86 L439.92,78.78 L441.77,78.69 L443.65,78.61 L445.56,78.53 L447.51,78.45 L449.49,78.37 L451.50,78.30 L453.53,78.23 L455.60,78.16 L457.68,78.10 L459.78,78.04 L461.90,77.98 L464.03,77.93 L466.17,77.88 L468.31,77.83 L470.46,77.79 L472.60,77.74 L474.75,77.71 L476.90,77.67 L479.04,77.64 L481.19,77.61 L483.34,77.58 L485.49,77.56 L487.65,77.53 L489.80,77.51 L491.95,77.50 L494.11,77.48 L496.26,77.46 L498.41,77.45 L500.57,77.44 L502.73,77.43 L504.88,77.42 L507.04,77.41 L509.20,77.41 L511.36,77.40 L513.52,77.40 L515.68,77.39 L517.84,77.39 L520.00,77.38 L522.16,77.38 L524.32,77.38 L526.48,77.37 L528.65,77.37 L530.81,77.37 L532.97,77.37 L535.14,77.36 L537.30,77.36 L539.47,77.36 L541.63,77.36 L543.80,77.35 L545.97,77.35 L548.13,77.35 L550.30,77.35 L552.47,77.35 L554.64,77.34 L556.81,77.34 L558.98,77.34 L561.15,77.34 L563.33,77.34 L565.50,77.34 L567.67,77.34 L569.85,77.34 L572.02,77.34 L574.20,77.34 L576.38,77.34 L578.55,77.34 L580.73,77.34 L582.91,77.34 L585.09,77.34 L587.27,77.34 L589.45,77.34 L591.64,77.34 L593.82,77.34 L596.01,77.35 L598.19,77.35 L600.38,77.35 L602.56,77.35 L604.75,77.35 L606.94,77.36 L609.13,77.36 L611.32,77.36 L613.52,77.36 L615.71,77.37 L617.90,77.37 L620.10,77.38 L622.29,77.38 L624.49,77.38 L626.69,77.39 L628.89,77.39 L631.09,77.40 L633.29,77.40 L635.50,77.41 L637.70,77.41 L639.90,77.42 L642.11,77.43 L644.32,77.43 L646.53,77.44 L648.74,77.45 L650.95,77.45 L653.16,77.46 L655.37,77.47 L657.59,77.47 L659.80,77.48 L662.02,77.49 L664.24,77.50 L666.46,77.51 L668.68,77.51 L670.90,77.52 L673.12,77.53 L675.34,77.54 L677.56,77.55 L679.79,77.55 L682.02,77.56 L684.24,77.57 L686.47,77.58 L688.70,77.59 L690.93,77.59 L693.16,77.60 L695.39,77.61 L697.62,77.62 L699.85,77.62 L702.08,77.63 L704.31,77.64 L706.54,77.65 L708.77,77.65 L711.00,77.66 L713.23,77.66 L715.46,77.67 L717.68,77.68 L719.91,77.68 L722.14,77.69 L724.36,77.69 L726.58,77.69 L728.81,77.70 L731.03,77.70 L733.25,77.70 L735.46,77.71 L737.68,77.71 L739.90,77.71 L742.11,77.71 L744.33,77.71 L746.54,77.71 L748.75,77.71 L750.96,77.71 L753.17,77.71 L755.38,77.71 L757.59,77.71 L759.79,77.70 L762.00,77.70 L763.00,77.70" stroke="#56B4E9"/>
<path d="M184.60,544.42 L185.00,544.00 L185.63,543.34 L186.27,542.67 L186.90,542.00 L187.52,541.33 L188.15,540.65 L188.77,539.97 L189.40,539.28 L190.02,538.59 L190.63,537.89 L191.25,537.19 L191.86,536.49 L192.48,535.78 L193.09,535.06 L193.69,534.34 L194.30,533.62 L194.91,532.89 L195.51,532.16 L196.11,531.42 L196.71,530.68 L197.31,529.93 L197.90,529.17 L198.50,528.42 L199.09,527.65 L199.68,526.88 L200.27,526.11 L200.86,525.33 L201.44,524.54 L202.03,523.75 L202.61,522.95 L203.19,522.15 L203.77,521.34 L204.34,520.53 L204.92,519.71 L205.49,518.88 L206.06,518.05 L206.63,517.21 L207.20,516.37 L207.77,515.52 L208.33,514.66 L208.89,513.80 L209.45,512.93 L210.01,512.06 L210.56,511.18 L211.11,510.29 L211.67,509.40 L212.21,508.50 L212.76,507.59 L213.30,506.68 L213.85,505.76 L214.39,504.83 L214.92,503.90 L215.46,502.96 L215.99,502.01 L216.52,501.05 L217.04,500.09 L217.57,499.12 L218.09,498.15 L218.61,497.16 L219.12,496.17 L219.64,495.17 L220.15,494.17 L220.66,493.15 L221.16,492.13 L221.67,491.10 L222.17,490.06 L222.67,489.02 L223.16,487.97 L223.66,486.90 L224.15,485.83 L224.64,484.75 L225.13,483.67 L225.61,482.57 L226.09,481.46 L226.57,480.35 L227.05,479.23 L227.53,478.10 L228.00,476.95 L228.47,475.80 L228.94,474.64 L229.41,473.47 L229.88,472.29 L230.34,471.10 L230.80,469.90 L231.26,468.70 L231.72,467.48 L232.18,466.25 L232.63,465.00 L233.09,463.75 L233.54,462.49 L233.99,461.22 L234.44,459.93 L234.89,458.64 L235.33,457.33 L235.78,456.01 L236.22,454.68 L236.66,453.34 L237.10,451.99 L237.54,450.62 L237.98,449.24 L238.42,447.85 L238.86,446.44 L239.30,445.03 L239.73,443.60 L240.17,442.15 L240.61,440.69 L241.04,439.22 L241.48,437.74 L241.91,436.24 L242.35,434.72 L242.79,433.19 L243.23,431.64 L243.66,430.08 L244.10,428.51 L244.54,426.91 L244.98,425.30 L245.42,423.67 L245.86,422.03 L246.31,420.36 L246.75,418.68 L247.19,416.98 L247.64,415.26 L248.08,413.53 L248.53,411.77 L248.97,410.01 L249.42,408.22 L249.86,406.42 L250.30,404.61 L250.75,402.78 L251.19,400.94 L251.63,399.09 L252.07,397.22 L252.51,395.34 L252.95,393.45 L253.38,391.56 L253.82,389.65 L254.25,387.74 L254.68,385.82 L255.11,383.89 L255.53,381.95 L255.96,380.01 L256.38,378.07 L256.80,376.11 L257.22,374.15 L257.64,372.18 L258.05,370.20 L258.47,368.21 L258.88,366.22 L259.29,364.22 L259.70,362.21 L260.11,360.19 L260.52,358.17 L260.93,356.14 L261.34,354.10 L261.74,352.05 L262.15,349.99 L262.55,347.93 L262.96,345.85 L263.36,343.77 L263.77,341.68 L264.17,339.58 L264.58,337.47 L264.98,335.35 L265.39,333.22 L265.79,331.08 L266.20,328.94 L266.61,326.78 L267.01,324.62 L267.42,322.44 L267.83,320.26 L268.25,318.06 L268.66,315.86 L269.07,313.65 L269.49,311.44 L269.91,309.22 L270.33,307.00 L270.75,304.77 L271.17,302.55 L271.60,300.32 L272.02,298.10 L272.45,295.88 L272.88,293.66 L273.30,291.46 L273.74,289.25 L274.17,287.06 L274.60,284.87 L275.03,282.70 L275.47,280.53 L275.91,278.38 L276.34,276.23 L276.79,274.10 L277.23,271.97 L277.67,269.86 L278.12,267.77 L278.56,265.69 L279.01,263.64 L279.45,261.60 L279.89,259.59 L280.34,257.61 L280.78,255.66 L281.22,253.73 L281.66,251.83 L282.09,249.96 L282.53,248.12 L282.96,246.32 L283.39,244.54 L283.82,242.79 L284.24,241.08 L284.66,239.39 L285.08,237.73 L285.49,236.11 L285.91,234.51 L286.32,232.93 L286.73,231.38 L287.13,229.85 L287.54,228.35 L287.94,226.87 L288.34,225.41 L288.74,223.97 L289.14,222.55 L289.54,221.15 L289.94,219.76 L290.33,218.40 L290.73,217.05 L291.12,215.72 L291.51,214.41 L291.90,213.11 L292.30,211.83 L292.69,210.56 L293.08,209.31 L293.47,208.07 L293.86,206.85 L294.25,205.64 L294.64,204.45 L295.03,203.27 L295.42,202.10 L295.81,200.94 L296.20,199.79 L296.59,198.66 L296.98,197.54 L297.37,196.43 L297.76,195.33 L298.15,194.25 L298.54,193.17 L298.94,192.11 L299.33,191.05 L299.72,190.01 L300.11,188.97 L300.51,187.95 L300.90,186.93 L301.29,185.92 L301.69,184.93 L302.08,183.94 L302.48,182.96 L302.87,181.99 L303.27,181.03 L303.67,180.07 L304.07,179.13 L304.47,178.19 L304.86,177.26 L305.26,176.34 L305.67,175.43 L306.07,174.52 L306.47,173.62 L306.87,172.73 L307.28,171.84 L307.68,170.97 L308.09,170.10 L308.49,169.23 L308.90,168.37 L309.31,167.52 L309.71,166.68 L310.12,165.84 L310.54,165.01 L310.95,164.18 L311.36,163.36 L311.77,162.55 L312.19,161.74 L312.60,160.93 L313.02,160.14 L313.44,159.34 L313.86,158.56 L314.29,157.78 L314.71,157.00 L315.14,156.23 L315.57,155.47 L316.00,154.71 L316.43,153.95 L316.87,153.20 L317.30,152.46 L317.74,151.72 L318.18,150.99 L318.63,150.26 L319.08,149.54 L319.53,148.82 L319.98,148.11 L320.43,147.40 L320.89,146.69 L321.35,146.00 L321.81,145.30 L322.28,144.62 L322.75,143.93 L323.22,143.25 L323.70,142.58 L324.18,141.91 L324.66,141.25 L325.14,140.59 L325.63,139.94 L326.12,139.29 L326.62,138.65 L327.12,138.01 L327.62,137.38 L328.13,136.76 L328.64,136.13 L329.15,135.52 L329.67,134.91 L330.19,134.30 L330.71,133.70 L331.24,133.10 L331.77,132.51 L332.31,131.93 L332.85,131.35 L333.39,130.78 L333.94,130.21 L334.49,129.65 L335.05,129.09 L335.61,128.54 L336.17,128.00 L336.73,127.46 L337.31,126.93 L337.88,126.40 L338.46,125.88 L339.04,125.37 L339.62,124.86 L340.21,124.36 L340.80,123.86 L341.39,123.37 L341.99,122.88 L342.59,122.40 L343.19,121.92 L343.80,121.45 L344.40,120.99 L345.01,120.53 L345.63,120.08 L346.24,119.63 L346.86,119.19 L347.48,118.75 L348.10,118.32 L348.72,117.89 L349.35,117.47 L349.97,117.05 L350.60,116.64 L351.24,116.23 L351.87,115.82 L352.51,115.42 L353.15,115.03 L353.80,114.64 L354.44,114.25 L355.09,113.86 L355.74,113.49 L356.40,113.11 L357.06,112.74 L357.72,112.37 L358.39,112.01 L359.05,111.64 L359.73,111.29 L360.40,110.93 L361.08,110.58 L361.76,110.23 L362.45,109.89 L363.14,109.55 L363.83,109.21 L364.53,108.88 L365.24,108.55 L365.94,108.22 L366.66,107.89 L367.37,107.57 L368.09,107.25 L368.82,106.93 L369.55,106.62 L370.29,106.31 L371.03,106.00 L371.78,105.69 L372.53,105.39 L373.29,105.09 L374.06,104.79 L374.84,104.49 L375.62,104.20 L376.40,103.91 L377.20,103.62 L378.01,103.33 L378.82,103.05 L379.64,102.76 L380.47,102.48 L381.31,102.21 L382.16,101.93 L383.02,101.65 L383.89,101.38 L384.77,101.11 L385.67,100.84 L386.57,100.58 L387.48,100.32 L388.40,100.06 L389.33,99.80 L390.27,99.54 L391.23,99.29 L392.19,99.04 L393.17,98.79 L394.15,98.55 L395.15,98.30 L396.16,98.06 L397.17,97.83 L398.20,97.59 L399.24,97.36 L400.29,97.14 L401.36,96.91 L402.43,96.69 L403.51,96.47 L404.61,96.26 L405.71,96.05 L406.83,95.84 L407.95,95.64 L409.09,95.43 L410.23,95.24 L411.39,95.04 L412.55,94.85 L413.73,94.66 L414.91,94.47 L416.11,94.29 L417.31,94.11 L418.52,93.94 L419.74,93.77 L420.97,93.60 L422.20,93.43 L423.45,93.27 L424.70,93.11 L425.97,92.95 L427.24,92.79 L428.52,92.64 L429.81,92.49 L431.12,92.34 L432.43,92.20 L433.75,92.06 L435.08,91.92 L436.43,91.78 L437.78,91.64 L439.15,91.51 L440.53,91.38 L441.92,91.25 L443.32,91.13 L444.74,91.01 L446.17,90.89 L447.61,90.77 L449.07,90.66 L450.54,90.55 L452.02,90.44 L453.52,90.33 L455.03,90.23 L456.56,90.13 L458.11,90.03 L459.67,89.93 L461.25,89.84 L462.84,89.75 L464.46,89.66 L466.09,89.57 L467.74,89.49 L469.42,89.41 L471.11,89.33 L472.82,89.26 L474.56,89.18 L476.32,89.11 L478.10,89.05 L479.91,88.98 L481.74,88.92 L483.60,88.86 L485.49,88.80 L487.41,88.74 L489.35,88.69 L491.33,88.64 L493.34,88.59 L495.38,88.54 L497.44,88.50 L499.54,88.45 L501.66,88.41 L503.80,88.37 L505.97,88.33 L508.15,88.30 L510.36,88.26 L512.58,88.23 L514.82,88.20 L517.07,88.16 L519.32,88.13 L521.59,88.10 L523.85,88.07 L526.12,88.04 L528.38,88.02 L530.65,87.99 L532.92,87.96 L535.19,87.94 L537.46,87.91 L539.73,87.89 L542.00,87.86 L544.28,87.84 L546.56,87.82 L548.83,87.79 L551.11,87.77 L553.40,87.75 L555.68,87.73 L557.96,87.71 L560.25,87.69 L562.54,87.68 L564.83,87.66 L567.12,87.64 L569.41,87.63 L571.70,87.61 L574.00,87.60 L576.29,87.58 L578.59,87.57 L580.88,87.56 L583.18,87.54 L585.47,87.53 L587.77,87.52 L590.06,87.51 L592.35,87.50 L594.64,87.49 L596.93,87.49 L599.22,87.48 L601.51,87.47 L603.79,87.46 L606.08,87.46 L608.36,87.45 L610.64,87.45 L612.92,87.44 L615.19,87.44 L617.47,87.44 L619.74,87.43 L622.02,87.43 L624.29,87.43 L626.55,87.43 L628.82,87.43 L631.09,87.43 L633.35,87.43 L635.61,87.43 L637.88,87.43 L640.14,87.44 L642.39,87.44 L644.65,87.44 L646.91,87.44 L649.16,87.45 L651.41,87.45 L653.66,87.46 L655.91,87.46 L658.16,87.47 L660.41,87.47 L662.65,87.48 L664.90,87.49 L667.14,87.49 L669.38,87.50 L671.62,87.51 L673.86,87.51 L676.09,87.52 L678.33,87.53 L680.56,87.54 L682.79,87.54 L685.02,87.55 L687.25,87.56 L689.48,87.56 L691.70,87.57 L693.92,87.58 L696.14,87.59 L698.36,87.59 L700.58,87.60 L702.80,87.61 L705.01,87.61 L707.23,87.62 L709.44,87.63 L711.65,87.63 L713.86,87.64 L716.06,87.64 L718.27,87.65 L720.47,87.65 L722.67,87.66 L724.87,87.66 L727.07,87.67 L729.27,87.67 L731.46,87.67 L733.65,87.67 L735.84,87.68 L738.03,87.68 L740.22,87.68 L742.40,87.68 L744.59,87.68 L746.77,87.68 L748.95,87.67 L751.13,87.67 L753.31,87.67 L755.48,87.67 L757.66,87.66 L759.83,87.66 L762.00,87.65 L763.00,87.65" stroke="#E69F00"/>
<path d="M184.60,554.31 L185.00,554.00 L185.80,553.40 L186.59,552.79 L187.38,552.18 L188.17,551.56 L188.96,550.94 L189.75,550.32 L190.54,549.70 L191.33,549.07 L192.11,548.43 L192.89,547.80 L193.68,547.16 L194.46,546.51 L195.23,545.87 L196.01,545.22 L196.79,544.56 L197.56,543.90 L198.33,543.24 L199.10,542.57 L199.87,541.90 L200.63,541.22 L201.40,540.54 L202.16,539.86 L202.92,539.17 L203.68,538.48 L204.44,537.78 L205.19,537.08 L205.94,536.38 L206.69,535.67 L207.44,534.95 L208.19,534.24 L208.93,533.51 L209.67,532.78 L210.41,532.05 L211.15,531.31 L211.88,530.57 L212.61,529.82 L213.34,529.07 L214.07,528.31 L214.79,527.55 L215.51,526.78 L216.23,526.01 L216.94,525.23 L217.65,524.44 L218.36,523.65 L219.07,522.86 L219.77,522.06 L220.47,521.25 L221.16,520.44 L221.86,519.62 L222.55,518.79 L223.23,517.96 L223.91,517.13 L224.59,516.28 L225.27,515.43 L225.94,514.58 L226.60,513.72 L227.27,512.85 L227.92,511.98 L228.58,511.10 L229.23,510.21 L229.88,509.31 L230.52,508.41 L231.16,507.51 L231.80,506.59 L232.43,505.67 L233.06,504.75 L233.69,503.81 L234.31,502.87 L234.93,501.93 L235.54,500.97 L236.16,500.01 L236.77,499.05 L237.37,498.07 L237.97,497.09 L238.57,496.10 L239.16,495.11 L239.76,494.11 L240.34,493.10 L240.93,492.09 L241.51,491.06 L242.09,490.03 L242.66,489.00 L243.24,487.95 L243.80,486.90 L244.37,485.85 L244.93,484.78 L245.49,483.71 L246.05,482.63 L246.60,481.55 L247.15,480.45 L247.70,479.35 L248.24,478.24 L248.79,477.13 L249.32,476.00 L249.86,474.87 L250.39,473.74 L250.92,472.59 L251.45,471.44 L251.97,470.28 L252.50,469.11 L253.01,467.94 L253.53,466.76 L254.04,465.57 L254.55,464.37 L255.06,463.17 L255.57,461.95 L256.07,460.73 L256.57,459.51 L257.07,458.27 L257.57,457.03 L258.06,455.78 L258.55,454.52 L259.04,453.26 L259.52,451.98 L260.01,450.70 L260.49,449.41 L260.97,448.12 L261.44,446.81 L261.92,445.49 L262.39,444.17 L262.86,442.84 L263.33,441.50 L263.79,440.15 L264.26,438.79 L264.72,437.43 L265.18,436.05 L265.64,434.67 L266.09,433.27 L266.55,431.87 L267.00,430.46 L267.45,429.03 L267.90,427.60 L268.34,426.16 L268.79,424.71 L269.23,423.25 L269.67,421.77 L270.11,420.29 L270.55,418.80 L270.98,417.29 L271.42,415.78 L271.85,414.25 L272.28,412.72 L272.72,411.17 L273.15,409.61 L273.57,408.04 L274.00,406.46 L274.43,404.87 L274.86,403.26 L275.28,401.64 L275.71,400.01 L276.13,398.37 L276.55,396.72 L276.98,395.05 L277.40,393.37 L277.82,391.67 L278.24,389.97 L278.67,388.24 L279.09,386.51 L279.51,384.76 L279.94,383.00 L280.36,381.22 L280.79,379.43 L281.21,377.62 L281.64,375.80 L282.07,373.96 L282.50,372.10 L282.93,370.23 L283.36,368.34 L283.80,366.44 L284.24,364.51 L284.68,362.57 L285.12,360.61 L285.56,358.64 L286.01,356.64 L286.46,354.62 L286.91,352.59 L287.36,350.53 L287.82,348.45 L288.28,346.35 L288.75,344.23 L289.22,342.09 L289.69,339.93 L290.16,337.76 L290.64,335.57 L291.12,333.38 L291.60,331.18 L292.08,328.97 L292.56,326.77 L293.04,324.57 L293.51,322.37 L293.99,320.18 L294.47,318.01 L294.94,315.85 L295.41,313.71 L295.88,311.59 L296.34,309.48 L296.80,307.40 L297.26,305.34 L297.71,303.30 L298.17,301.28 L298.62,299.28 L299.06,297.30 L299.51,295.33 L299.95,293.38 L300.40,291.45 L300.84,289.54 L301.28,287.64 L301.71,285.75 L302.15,283.89 L302.59,282.04 L303.02,280.20 L303.46,278.38 L303.89,276.57 L304.32,274.78 L304.75,273.00 L305.19,271.23 L305.62,269.48 L306.05,267.74 L306.48,266.01 L306.91,264.29 L307.34,262.59 L307.78,260.90 L308.21,259.22 L308.64,257.55 L309.07,255.89 L309.51,254.25 L309.94,252.61 L310.38,250.98 L310.82,249.37 L311.26,247.76 L311.70,246.17 L312.14,244.58 L312.58,243.01 L313.03,241.44 L313.47,239.89 L313.92,238.34 L314.37,236.80 L314.83,235.27 L315.28,233.75 L315.74,232.23 L316.20,230.73 L316.66,229.23 L317.12,227.74 L317.59,226.26 L318.06,224.79 L318.53,223.33 L319.00,221.87 L319.47,220.43 L319.95,219.00 L320.43,217.58 L320.91,216.17 L321.39,214.77 L321.87,213.39 L322.35,212.02 L322.83,210.66 L323.31,209.31 L323.79,207.98 L324.27,206.67 L324.76,205.36 L325.24,204.07 L325.72,202.80 L326.20,201.54 L326.68,200.30 L327.16,199.07 L327.64,197.85 L328.12,196.65 L328.59,195.46 L329.07,194.29 L329.54,193.13 L330.02,191.99 L330.49,190.86 L330.96,189.74 L331.43,188.64 L331.90,187.55 L332.37,186.47 L332.84,185.41 L333.30,184.36 L333.77,183.32 L334.24,182.29 L334.70,181.27 L335.17,180.27 L335.63,179.27 L336.10,178.29 L336.57,177.32 L337.03,176.37 L337.50,175.42 L337.96,174.48 L338.43,173.56 L338.90,172.65 L339.36,171.74 L339.83,170.85 L340.30,169.97 L340.77,169.10 L341.24,168.24 L341.71,167.39 L342.18,166.54 L342.65,165.71 L343.12,164.89 L343.59,164.08 L344.06,163.28 L344.54,162.49 L345.01,161.70 L345.49,160.93 L345.96,160.16 L346.44,159.41 L346.92,158.66 L347.40,157.92 L347.88,157.19 L348.36,156.47 L348.84,155.76 L349.32,155.05 L349.81,154.36 L350.29,153.67 L350.78,152.99 L351.27,152.31 L351.76,151.65 L352.25,150.99 L352.74,150.35 L353.23,149.70 L353.73,149.07 L354.22,148.44 L354.72,147.82 L355.22,147.21 L355.72,146.60 L356.22,146.00 L356.73,145.40 L357.24,144.81 L357.75,144.23 L358.26,143.65 L358.78,143.08 L359.30,142.51 L359.82,141.95 L360.34,141.39 L360.87,140.84 L361.40,140.30 L361.93,139.75 L362.46,139.22 L363.00,138.68 L363.54,138.15 L364.08,137.63 L364.63,137.11 L365.18,136.59 L365.73,136.08 L366.29,135.57 L366.85,135.07 L367.41,134.57 L367.97,134.07 L368.54,133.58 L369.12,133.09 L369.69,132.60 L370.27,132.12 L370.86,131.64 L371.44,131.17 L372.04,130.69 L372.63,130.22 L373.23,129.76 L373.84,129.30 L374.45,128.84 L375.06,128.38 L375.68,127.93 L376.30,127.47 L376.92,127.03 L377.56,126.58 L378.19,126.14 L378.83,125.70 L379.48,125.27 L380.13,124.83 L380.79,124.40 L381.45,123.98 L382.12,123.55 L382.79,123.13 L383.47,122.72 L384.15,122.30 L384.84,121.89 L385.53,121.49 L386.22,121.09 L386.93,120.69 L387.63,120.29 L388.35,119.90 L389.06,119.51 L389.78,119.13 L390.51,118.75 L391.24,118.38 L391.98,118.01 L392.72,117.64 L393.47,117.28 L394.22,116.92 L394.98,116.56 L395.74,116.21 L396.50,115.87 L397.27,115.52 L398.05,115.19 L398.83,114.85 L399.62,114.52 L400.41,114.19 L401.20,113.87 L402.01,113.55 L402.81,113.24 L403.63,112.93 L404.44,112.62 L405.27,112.31 L406.10,112.01 L406.93,111.72 L407.77,111.42 L408.62,111.13 L409.47,110.85 L410.33,110.56 L411.20,110.29 L412.07,110.01 L412.95,109.74 L413.84,109.47 L414.73,109.20 L415.63,108.94 L416.54,108.68 L417.46,108.42 L418.38,108.16 L419.31,107.91 L420.25,107.66 L421.20,107.42 L422.16,107.17 L423.13,106.93 L424.10,106.69 L425.09,106.46 L426.09,106.23 L427.09,106.00 L428.11,105.77 L429.14,105.54 L430.18,105.32 L431.23,105.10 L432.29,104.88 L433.37,104.66 L434.46,104.44 L435.56,104.23 L436.68,104.02 L437.81,103.81 L438.95,103.60 L440.11,103.39 L441.29,103.19 L442.48,102.98 L443.68,102.78 L444.91,102.58 L446.15,102.39 L447.40,102.19 L448.68,101.99 L449.98,101.80 L451.29,101.61 L452.62,101.42 L453.98,101.24 L455.35,101.05 L456.74,100.87 L458.15,100.70 L459.57,100.52 L461.02,100.35 L462.48,100.18 L463.97,100.01 L465.47,99.85 L466.99,99.69 L468.52,99.53 L470.07,99.38 L471.64,99.23 L473.22,99.09 L474.82,98.94 L476.42,98.81 L478.05,98.67 L479.68,98.54 L481.32,98.42 L482.97,98.30 L484.63,98.18 L486.30,98.06 L487.98,97.95 L489.67,97.85 L491.37,97.74 L493.08,97.65 L494.79,97.55 L496.52,97.46 L498.26,97.37 L500.01,97.28 L501.77,97.20 L503.54,97.12 L505.32,97.04 L507.11,96.96 L508.91,96.89 L510.73,96.82 L512.56,96.75 L514.40,96.68 L516.25,96.62 L518.12,96.56 L519.99,96.49 L521.88,96.43 L523.79,96.37 L525.71,96.31 L527.64,96.25 L529.59,96.20 L531.55,96.14 L533.53,96.08 L535.52,96.03 L537.53,95.98 L539.56,95.92 L541.60,95.87 L543.66,95.82 L545.74,95.77 L547.83,95.72 L549.95,95.67 L552.08,95.62 L554.24,95.57 L556.41,95.53 L558.60,95.48 L560.81,95.44 L563.04,95.39 L565.27,95.35 L567.52,95.31 L569.77,95.27 L572.03,95.23 L574.29,95.19 L576.54,95.16 L578.80,95.12 L581.05,95.09 L583.30,95.06 L585.54,95.03 L587.78,95.00 L590.01,94.97 L592.23,94.95 L594.45,94.92 L596.67,94.90 L598.88,94.87 L601.09,94.85 L603.30,94.83 L605.52,94.81 L607.74,94.79 L609.96,94.78 L612.20,94.76 L614.44,94.74 L616.68,94.73 L618.94,94.72 L621.20,94.70 L623.46,94.69 L625.74,94.68 L628.02,94.67 L630.31,94.66 L632.60,94.66 L634.91,94.65 L637.21,94.64 L639.53,94.64 L641.84,94.64 L644.16,94.63 L646.49,94.63 L648.81,94.63 L651.13,94.63 L653.45,94.63 L655.77,94.63 L658.09,94.63 L660.40,94.64 L662.71,94.64 L665.01,94.64 L667.30,94.65 L669.59,94.65 L671.87,94.66 L674.14,94.66 L676.41,94.67 L678.67,94.67 L680.92,94.68 L683.16,94.69 L685.40,94.69 L687.64,94.70 L689.86,94.71 L692.08,94.71 L694.29,94.72 L696.50,94.73 L698.70,94.73 L700.89,94.74 L703.08,94.75 L705.26,94.75 L707.43,94.76 L709.60,94.77 L711.77,94.77 L713.92,94.78 L716.07,94.78 L718.22,94.79 L720.36,94.79 L722.49,94.79 L724.62,94.80 L726.74,94.80 L728.85,94.80 L730.96,94.80 L733.07,94.81 L735.17,94.81 L737.26,94.81 L739.35,94.81 L741.43,94.80 L743.51,94.80 L745.58,94.80 L747.65,94.80 L749.71,94.79 L751.77,94.79 L753.82,94.78 L755.87,94.78 L757.92,94.77 L759.96,94.76 L762.00,94.75 L763.00,94.75" stroke="#E51E10"/>
<path d="M184.60,565.49 L185.00,565.30 L185.94,564.86 L186.89,564.41 L187.83,563.97 L188.77,563.51 L189.71,563.06 L190.65,562.60 L191.58,562.14 L192.52,561.67 L193.46,561.21 L194.39,560.73 L195.32,560.26 L196.26,559.78 L197.19,559.30 L198.12,558.81 L199.05,558.32 L199.98,557.83 L200.90,557.33 L201.83,556.83 L202.76,556.32 L203.68,555.81 L204.61,555.30 L205.53,554.78 L206.45,554.26 L207.37,553.74 L208.29,553.21 L209.21,552.67 L210.13,552.14 L211.05,551.59 L211.97,551.05 L212.88,550.50 L213.80,549.94 L214.71,549.39 L215.62,548.82 L216.53,548.25 L217.45,547.68 L218.35,547.11 L219.26,546.53 L220.17,545.94 L221.07,545.35 L221.98,544.76 L222.88,544.16 L223.78,543.55 L224.69,542.94 L225.58,542.33 L226.48,541.71 L227.38,541.09 L228.27,540.46 L229.17,539.83 L230.06,539.19 L230.95,538.55 L231.84,537.90 L232.73,537.25 L233.62,536.59 L234.50,535.93 L235.39,535.26 L236.27,534.58 L237.15,533.91 L238.03,533.22 L238.91,532.53 L239.78,531.84 L240.65,531.14 L241.53,530.44 L242.39,529.73 L243.26,529.01 L244.13,528.29 L244.99,527.56 L245.85,526.83 L246.71,526.10 L247.57,525.36 L248.42,524.61 L249.27,523.86 L250.12,523.10 L250.97,522.34 L251.81,521.57 L252.66,520.79 L253.50,520.02 L254.33,519.23 L255.16,518.44 L256.00,517.65 L256.82,516.85 L257.65,516.04 L258.47,515.23 L259.29,514.41 L260.10,513.59 L260.91,512.77 L261.72,511.93 L262.53,511.10 L263.33,510.25 L264.13,509.40 L264.92,508.55 L265.71,507.69 L266.50,506.83 L267.28,505.96 L268.06,505.08 L268.84,504.20 L269.61,503.31 L270.37,502.42 L271.14,501.53 L271.89,500.62 L272.65,499.72 L273.40,498.80 L274.14,497.89 L274.88,496.96 L275.62,496.03 L276.35,495.10 L277.08,494.16 L277.80,493.22 L278.51,492.27 L279.23,491.31 L279.93,490.35 L280.63,489.38 L281.33,488.41 L282.02,487.44 L282.71,486.46 L283.39,485.47 L284.06,484.48 L284.74,483.49 L285.40,482.48 L286.06,481.48 L286.72,480.47 L287.37,479.46 L288.02,478.44 L288.66,477.41 L289.29,476.38 L289.93,475.35 L290.55,474.32 L291.18,473.27 L291.79,472.23 L292.41,471.18 L293.02,470.12 L293.62,469.06 L294.22,468.00 L294.82,466.92 L295.41,465.85 L296.00,464.77 L296.59,463.68 L297.17,462.59 L297.75,461.49 L298.33,460.39 L298.90,459.28 L299.47,458.16 L300.03,457.04 L300.60,455.92 L301.16,454.78 L301.71,453.64 L302.27,452.50 L302.82,451.34 L303.37,450.18 L303.91,449.01 L304.46,447.84 L305.00,446.65 L305.54,445.46 L306.08,444.26 L306.61,443.05 L307.15,441.84 L307.68,440.61 L308.21,439.38 L308.74,438.14 L309.27,436.89 L309.79,435.63 L310.32,434.37 L310.84,433.09 L311.36,431.81 L311.88,430.51 L312.39,429.21 L312.91,427.90 L313.42,426.58 L313.94,425.25 L314.45,423.92 L314.96,422.57 L315.47,421.21 L315.98,419.84 L316.48,418.46 L316.99,417.08 L317.49,415.68 L318.00,414.27 L318.50,412.85 L319.00,411.42 L319.50,409.98 L320.00,408.53 L320.50,407.06 L321.00,405.59 L321.50,404.10 L322.00,402.60 L322.50,401.09 L322.99,399.56 L323.49,398.02 L323.99,396.47 L324.48,394.91 L324.98,393.33 L325.48,391.74 L325.97,390.14 L326.47,388.52 L326.97,386.89 L327.47,385.24 L327.97,383.57 L328.47,381.90 L328.97,380.20 L329.47,378.49 L329.97,376.76 L330.48,375.02 L330.98,373.26 L331.49,371.48 L332.00,369.68 L332.51,367.87 L333.03,366.03 L333.55,364.18 L334.07,362.30 L334.59,360.41 L335.12,358.49 L335.65,356.56 L336.18,354.59 L336.72,352.61 L337.27,350.60 L337.81,348.57 L338.37,346.52 L338.93,344.43 L339.49,342.33 L340.06,340.20 L340.64,338.06 L341.22,335.90 L341.80,333.73 L342.38,331.56 L342.96,329.38 L343.54,327.21 L344.12,325.04 L344.70,322.88 L345.28,320.74 L345.85,318.61 L346.42,316.50 L346.98,314.41 L347.54,312.35 L348.09,310.31 L348.63,308.30 L349.18,306.30 L349.72,304.33 L350.25,302.37 L350.78,300.44 L351.31,298.51 L351.84,296.61 L352.37,294.71 L352.89,292.83 L353.42,290.96 L353.94,289.11 L354.46,287.26 L354.98,285.43 L355.50,283.60 L356.02,281.79 L356.54,279.98 L357.06,278.18 L357.58,276.39 L358.10,274.61 L358.62,272.83 L359.14,271.07 L359.67,269.31 L360.19,267.56 L360.71,265.82 L361.24,264.08 L361.76,262.36 L362.29,260.64 L362.82,258.92 L363.35,257.22 L363.88,255.52 L364.41,253.83 L364.94,252.14 L365.48,250.47 L366.01,248.79 L366.55,247.13 L367.09,245.47 L367.63,243.82 L368.17,242.17 L368.72,240.53 L369.27,238.90 L369.81,237.27 L370.37,235.64 L370.92,234.03 L371.48,232.42 L372.04,230.81 L372.60,229.21 L373.17,227.62 L373.74,226.03 L374.31,224.46 L374.89,222.89 L375.47,221.33 L376.05,219.79 L376.63,218.26 L377.21,216.75 L377.80,215.25 L378.38,213.78 L378.96,212.33 L379.54,210.90 L380.12,209.49 L380.69,208.11 L381.26,206.75 L381.83,205.42 L382.40,204.11 L382.96,202.82 L383.52,201.56 L384.08,200.33 L384.63,199.12 L385.18,197.93 L385.72,196.77 L386.26,195.63 L386.79,194.52 L387.32,193.42 L387.85,192.35 L388.37,191.30 L388.89,190.27 L389.40,189.26 L389.91,188.27 L390.42,187.29 L390.93,186.33 L391.43,185.39 L391.93,184.47 L392.42,183.55 L392.92,182.66 L393.41,181.78 L393.90,180.91 L394.39,180.05 L394.87,179.21 L395.35,178.39 L395.84,177.57 L396.31,176.76 L396.79,175.97 L397.27,175.19 L397.74,174.42 L398.21,173.66 L398.69,172.91 L399.16,172.16 L399.63,171.43 L400.10,170.70 L400.57,169.98 L401.04,169.27 L401.51,168.57 L401.98,167.87 L402.45,167.18 L402.92,166.50 L403.39,165.82 L403.87,165.15 L404.34,164.48 L404.81,163.82 L405.29,163.16 L405.77,162.51 L406.25,161.87 L406.73,161.23 L407.21,160.59 L407.69,159.96 L408.18,159.33 L408.67,158.71 L409.16,158.09 L409.65,157.47 L410.15,156.86 L410.65,156.25 L411.15,155.64 L411.65,155.04 L412.16,154.44 L412.67,153.85 L413.19,153.25 L413.71,152.66 L414.23,152.08 L414.76,151.49 L415.29,150.91 L415.82,150.33 L416.36,149.75 L416.90,149.18 L417.45,148.60 L418.01,148.03 L418.57,147.46 L419.13,146.90 L419.70,146.33 L420.28,145.77 L420.86,145.21 L421.44,144.65 L422.03,144.10 L422.63,143.55 L423.23,143.00 L423.84,142.45 L424.46,141.91 L425.08,141.36 L425.71,140.83 L426.34,140.29 L426.98,139.76 L427.63,139.23 L428.28,138.71 L428.94,138.18 L429.60,137.67 L430.28,137.15 L430.95,136.64 L431.64,136.13 L432.33,135.62 L433.03,135.12 L433.73,134.62 L434.44,134.12 L435.16,133.63 L435.88,133.14 L436.61,132.66 L437.34,132.17 L438.09,131.70 L438.84,131.22 L439.59,130.75 L440.35,130.28 L441.12,129.82 L441.90,129.35 L442.68,128.90 L443.47,128.44 L444.26,127.99 L445.06,127.54 L445.87,127.10 L446.68,126.66 L447.50,126.23 L448.33,125.79 L449.16,125.37 L450.00,124.94 L450.85,124.52 L451.70,124.10 L452.56,123.69 L453.42,123.28 L454.30,122.88 L455.17,122.48 L456.06,122.08 L456.95,121.69 L457.84,121.30 L458.75,120.91 L459.65,120.53 L460.57,120.16 L461.49,119.79 L462.42,119.42 L463.35,119.06 L464.29,118.70 L465.23,118.34 L466.18,117.99 L467.14,117.65 L468.10,117.31 L469.06,116.97 L470.03,116.64 L471.01,116.31 L472.00,115.99 L472.98,115.67 L473.98,115.36 L474.98,115.05 L475.98,114.75 L476.99,114.45 L478.00,114.16 L479.02,113.87 L480.05,113.58 L481.08,113.30 L482.12,113.03 L483.16,112.75 L484.20,112.49 L485.25,112.23 L486.31,111.97 L487.37,111.71 L488.44,111.47 L489.51,111.22 L490.59,110.98 L491.68,110.74 L492.76,110.51 L493.86,110.28 L494.96,110.06 L496.07,109.84 L497.18,109.63 L498.30,109.41 L499.43,109.21 L500.56,109.00 L501.71,108.80 L502.85,108.60 L504.01,108.41 L505.17,108.22 L506.34,108.03 L507.52,107.85 L508.71,107.67 L509.91,107.49 L511.11,107.32 L512.33,107.15 L513.55,106.98 L514.78,106.82 L516.03,106.66 L517.28,106.50 L518.55,106.34 L519.83,106.19 L521.12,106.03 L522.42,105.88 L523.74,105.74 L525.07,105.59 L526.41,105.45 L527.77,105.31 L529.14,105.17 L530.52,105.03 L531.92,104.90 L533.34,104.76 L534.77,104.63 L536.22,104.49 L537.68,104.36 L539.17,104.23 L540.67,104.11 L542.19,103.98 L543.73,103.85 L545.29,103.73 L546.87,103.61 L548.47,103.48 L550.10,103.36 L551.75,103.25 L553.42,103.13 L555.13,103.01 L556.86,102.90 L558.61,102.78 L560.40,102.67 L562.22,102.56 L564.08,102.45 L565.97,102.35 L567.90,102.24 L569.86,102.14 L571.87,102.04 L573.91,101.94 L575.98,101.84 L578.08,101.74 L580.21,101.65 L582.37,101.56 L584.56,101.47 L586.77,101.39 L589.00,101.31 L591.25,101.23 L593.51,101.15 L595.79,101.08 L598.07,101.01 L600.36,100.95 L602.64,100.89 L604.93,100.83 L607.22,100.77 L609.51,100.72 L611.81,100.67 L614.12,100.62 L616.44,100.58 L618.76,100.54 L621.09,100.49 L623.43,100.46 L625.77,100.42 L628.12,100.39 L630.47,100.35 L632.82,100.32 L635.17,100.29 L637.52,100.26 L639.87,100.24 L642.22,100.21 L644.56,100.19 L646.90,100.16 L649.24,100.14 L651.57,100.12 L653.89,100.10 L656.20,100.08 L658.51,100.06 L660.81,100.04 L663.10,100.02 L665.39,100.01 L667.67,99.99 L669.94,99.97 L672.21,99.96 L674.46,99.95 L676.72,99.93 L678.96,99.92 L681.20,99.91 L683.43,99.90 L685.66,99.88 L687.87,99.87 L690.09,99.86 L692.29,99.85 L694.49,99.84 L696.69,99.84 L698.88,99.83 L701.06,99.82 L703.23,99.81 L705.40,99.80 L707.57,99.80 L709.73,99.79 L711.88,99.78 L714.03,99.78 L716.17,99.77 L718.30,99.76 L720.43,99.76 L722.56,99.75 L724.68,99.75 L726.79,99.74 L728.90,99.74 L731.01,99.73 L733.10,99.72 L735.20,99.72 L737.29,99.71 L739.37,99.71 L741.45,99.70 L743.52,99.70 L745.59,99.69 L747.65,99.69 L749.71,99.68 L751.77,99.68 L753.82,99.67 L755.87,99.67 L757.92,99.66 L759.96,99.66 L762.00,99.65 L763.00,99.65" stroke="#0072B2"/>
</g>
<rect x="87.67" y="570.98" width="8.89" height="2.66"/><path d="M259 0V505H102V568C210 581 257 603 288 709H347V0Z" transform="translate(98.27,582.30) scale(0.03800,-0.03800)"/><text transform="translate(0,582.30) scale(1,1.0405)" x="119.40 140.54" y="0" font-size="38.00">50</text>
<rect x="87.67" y="477.13" width="8.89" height="2.66"/><path d="M259 0V505H102V568C210 581 257 603 288 709H347V0Z" transform="translate(98.27,488.45) scale(0.03800,-0.03800)"/><text transform="translate(0,488.45) scale(1,1.0405)" x="119.40 140.54" y="0" font-size="38.00">20</text>
<rect x="108.80" y="383.28" width="8.89" height="2.66"/><text transform="translate(0,394.61) scale(1,1.0405)" x="119.40 140.54" y="0" font-size="38.00">90</text>
<rect x="108.80" y="289.43" width="8.89" height="2.66"/><text transform="translate(0,300.76) scale(1,1.0405)" x="119.40 140.54" y="0" font-size="38.00">60</text>
<rect x="108.80" y="195.59" width="8.89" height="2.66"/><text transform="translate(0,206.91) scale(1,1.0405)" x="119.40 140.54" y="0" font-size="38.00">30</text>
<text transform="translate(0,113.06) scale(1,1.0405)" x="140.54" y="0" font-size="38.00">0</text>
<path d="M259 0V505H102V568C210 581 257 603 288 709H347V0Z" transform="translate(178.03,619.50) scale(0.03800,-0.03800)"/>
<path d="M259 0V505H102V568C210 581 257 603 288 709H347V0Z" transform="translate(360.43,619.50) scale(0.03800,-0.03800)"/><text transform="translate(0,619.50) scale(1,1.0405)" x="381.57" y="0" font-size="38.00">0</text>
<path d="M259 0V505H102V568C210 581 257 603 288 709H347V0Z" transform="translate(542.83,619.50) scale(0.03800,-0.03800)"/><text transform="translate(0,619.50) scale(1,1.0405)" x="563.97 585.10" y="0" font-size="38.00">00</text>
<path d="M259 0V505H102V568C210 581 257 603 288 709H347V0Z" transform="translate(725.23,619.50) scale(0.03800,-0.03800)"/><text transform="translate(0,619.50) scale(1,1.0405)" x="746.37 767.50 788.63" y="0" font-size="38.00">000</text>
<text transform="translate(0,679.40) scale(1,1.0405)" x="432.07 461.63" y="0" font-size="38.00">GM</text><text transform="translate(0,679.40) scale(1,0.9850)" x="398.30 421.51 493.28 503.84" y="0" font-size="38.00">r[/c</text>
<text transform="translate(0,660.80) scale(1,1.0405)" x="521.64" y="0" font-size="30.40">2</text>
<text transform="translate(0,679.40) scale(1,0.9850)" x="538.54" y="0" font-size="38.00">]</text>
<g transform="translate(44.60,369.20) rotate(-90)">
<path d="M0.7,7.2 L4.4,7.2 L18.2,-18.9 L14.5,-18.9 Z"/>
<path d="M1.0,-13.4 C1.6,-17.5 3.6,-19.0 5.2,-18.4 C7.2,-17.6 8.0,-14.0 9.5,-9.0 C10.6,-5.2 11.2,-2.6 11.9,0 C13.0,3.6 13.8,6.6 16.0,6.8 C17.6,6.9 18.6,5.0 19.0,1.6" fill="none" stroke="#000" stroke-width="1.9" stroke-linecap="round"/>
<text transform="translate(0,11.30) scale(1,0.9850)" x="20.75" y="0" font-size="30.40">d</text>
<text transform="translate(0,0.00) scale(1,0.9850)" x="46.91 57.47 78.60 99.74 120.87" y="0" font-size="38.00">[deg]</text>
</g>
<text transform="translate(0,226.00) scale(1,0.9850)" x="608.63 629.77 650.90 659.34 680.48 701.61" y="0" font-size="38.00">height</text>
<path d="M259 0V505H102V568C210 581 257 603 288 709H347V0Z" transform="translate(595.47,263.85) scale(0.03800,-0.03800)"/><path d="M259 0V505H102V568C210 581 257 603 288 709H347V0Z" transform="translate(627.17,263.85) scale(0.03800,-0.03800)"/><text transform="translate(0,263.85) scale(1,0.9850)" x="616.61" y="0" font-size="38.00">.</text>
<path d="M670.2,251.05 H717.7" stroke="#9400D3" stroke-width="2.2" fill="none"/>
<path d="M259 0V505H102V568C210 581 257 603 288 709H347V0Z" transform="translate(595.47,320.05) scale(0.03800,-0.03800)"/><text transform="translate(0,320.05) scale(1,1.0405)" x="627.17" y="0" font-size="38.00">5</text><text transform="translate(0,320.05) scale(1,0.9850)" x="616.61" y="0" font-size="38.00">.</text>
<path d="M670.2,307.25 H717.7" stroke="#009E73" stroke-width="2.2" fill="none"/>
<text transform="translate(0,376.25) scale(1,1.0405)" x="627.17" y="0" font-size="38.00">2</text>
<path d="M670.2,363.45 H717.7" stroke="#56B4E9" stroke-width="2.2" fill="none"/>
<text transform="translate(0,432.45) scale(1,1.0405)" x="627.17" y="0" font-size="38.00">3</text>
<path d="M670.2,419.65 H717.7" stroke="#E69F00" stroke-width="2.2" fill="none"/>
<text transform="translate(0,488.65) scale(1,1.0405)" x="627.17" y="0" font-size="38.00">5</text>
<path d="M670.2,475.85 H717.7" stroke="#E51E10" stroke-width="2.2" fill="none"/>
<path d="M259 0V505H102V568C210 581 257 603 288 709H347V0Z" transform="translate(606.03,544.85) scale(0.03800,-0.03800)"/><text transform="translate(0,544.85) scale(1,1.0405)" x="627.17" y="0" font-size="38.00">5</text>
<path d="M670.2,532.05 H717.7" stroke="#0072B2" stroke-width="2.2" fill="none"/>
</svg></body></html>
